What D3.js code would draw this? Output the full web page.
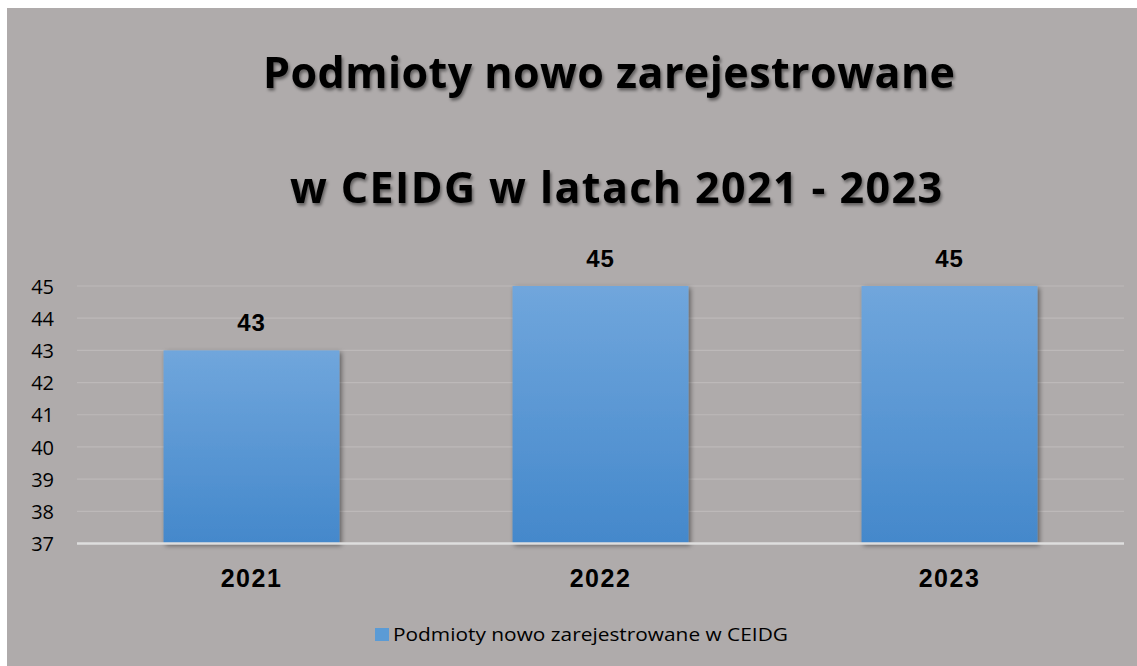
<!DOCTYPE html>
<html>
<head>
<meta charset="utf-8">
<script src="https://cdn.jsdelivr.net/npm/d3@7"></script>
<style>
  body { margin: 0; background: #fff; }
  svg { display: block; }
</style>
</head>
<body>
<svg id="chart" width="1137" height="666"></svg>
<script>
const years = ["2021", "2022", "2023"];
const values = [43, 45, 45];
const yTicks = [37, 38, 39, 40, 41, 42, 43, 44, 45];
const titleLines = ["Podmioty nowo zarejestrowane", "w CEIDG w latach 2021 - 2023"];
const seriesName = "Podmioty nowo zarejestrowane w CEIDG";

const svg = d3.select("#chart");
const defs = svg.append("defs");

const grad = defs.append("linearGradient")
    .attr("id", "barGrad")
    .attr("x1", 0).attr("y1", 0).attr("x2", 0).attr("y2", 1);
grad.append("stop").attr("offset", "0%").attr("stop-color", "#70a6dc");
grad.append("stop").attr("offset", "100%").attr("stop-color", "#4488cb");

const shadow = defs.append("filter").attr("id", "barShadow")
    .attr("x", "-10%").attr("y", "-10%").attr("width", "130%").attr("height", "130%");
shadow.append("feDropShadow")
    .attr("dx", 2).attr("dy", 2).attr("stdDeviation", 2.5)
    .attr("flood-color", "#000").attr("flood-opacity", 0.45);

const tShadow = defs.append("filter").attr("id", "textShadow")
    .attr("x", "-5%").attr("y", "-20%").attr("width", "110%").attr("height", "150%");
tShadow.append("feDropShadow")
    .attr("dx", 1.5).attr("dy", 2.5).attr("stdDeviation", 1.5)
    .attr("flood-color", "#000").attr("flood-opacity", 0.45);

// background panel
svg.append("rect")
    .attr("x", 7).attr("y", 8)
    .attr("width", 1130).attr("height", 658)
    .attr("fill", "#afabab");

// title
const titleX = [609, 616];
const titleY = [88, 203];
const titleW = [692, 652];
svg.selectAll("text.title")
    .data(titleLines)
    .enter()
    .append("text")
    .classed("title", true)
    .attr("x", (d, i) => titleX[i])
    .attr("y", (d, i) => titleY[i])
    .attr("text-anchor", "middle")
    .attr("textLength", (d, i) => titleW[i])
    .attr("lengthAdjust", "spacing")
    .attr("filter", "url(#textShadow)")
    .style("font-family", "'Open Sans', sans-serif")
    .style("font-weight", "bold")
    .style("font-size", "43px")
    .attr("fill", "#000")
    .text(d => d);

const x = d3.scaleBand()
    .domain(years)
    .range([77, 1124])
    .paddingInner(0.496)
    .paddingOuter(0.248);

const y = d3.scaleLinear()
    .domain([37, 45])
    .range([543.5, 286]);

// gridlines
svg.append("g")
    .selectAll("line")
    .data(yTicks.slice(1))
    .enter()
    .append("line")
    .attr("x1", 77).attr("x2", 1124)
    .attr("y1", d => y(d)).attr("y2", d => y(d))
    .attr("stroke", "#bdb9b9")
    .attr("stroke-width", 1.2);

// y axis labels
const yAxis = svg.append("g")
    .attr("transform", "translate(54,0)")
    .call(d3.axisLeft(y).tickValues(yTicks).tickSize(0).tickPadding(0));
yAxis.select(".domain").remove();
yAxis.selectAll("text")
    .attr("font-family", "'Open Sans', sans-serif")
    .attr("font-size", 20)
    .style("font-family", "'Open Sans', sans-serif")
    .style("font-size", "20px")
    .attr("fill", "#000")
    .attr("dy", "0.36em");

// bars
svg.append("g")
    .selectAll("rect")
    .data(values)
    .enter()
    .append("rect")
    .attr("x", (d, i) => x(years[i]))
    .attr("y", d => y(d))
    .attr("width", x.bandwidth())
    .attr("height", d => y(37) - y(d))
    .attr("fill", "url(#barGrad)")
    .attr("filter", "url(#barShadow)");

// baseline axis
svg.append("line")
    .attr("x1", 77).attr("x2", 1124)
    .attr("y1", y(37)).attr("y2", y(37))
    .attr("stroke", "#dedede")
    .attr("stroke-width", 2.5);

// value labels
svg.append("g")
    .selectAll("text")
    .data(values)
    .enter()
    .append("text")
    .attr("x", (d, i) => x(years[i]) + x.bandwidth() / 2)
    .attr("y", d => y(d) - 19)
    .attr("text-anchor", "middle")
    .style("font-family", "'Liberation Sans', Arial, sans-serif")
    .style("font-weight", "bold")
    .style("font-size", "24px")
    .style("letter-spacing", "1px")
    .attr("fill", "#000")
    .text(d => d);

// category labels
svg.append("g")
    .selectAll("text")
    .data(years)
    .enter()
    .append("text")
    .attr("x", d => x(d) + x.bandwidth() / 2)
    .attr("y", 587)
    .attr("text-anchor", "middle")
    .style("font-family", "'Liberation Sans', Arial, sans-serif")
    .style("font-weight", "bold")
    .style("font-size", "25px")
    .style("letter-spacing", "1.5px")
    .attr("fill", "#000")
    .text(d => d);

// legend
const legend = svg.append("g");
legend.append("rect")
    .attr("x", 375).attr("y", 628)
    .attr("width", 14).attr("height", 13)
    .attr("fill", "#5b9bd5");
legend.append("text")
    .attr("x", 393).attr("y", 641)
    .attr("textLength", 395)
    .attr("lengthAdjust", "spacingAndGlyphs")
    .style("font-family", "'Open Sans', sans-serif")
    .style("font-size", "19px")
    .attr("fill", "#000")
    .text(seriesName);
</script>
</body>
</html>
